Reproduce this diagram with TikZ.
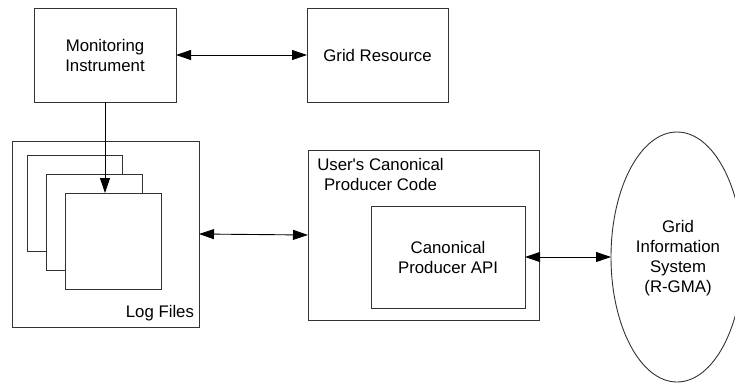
\documentclass[tikz,border=0pt]{standalone}
\usepackage{fontspec}
\setmainfont{Liberation Sans}
\usetikzlibrary{arrows.meta,shapes.geometric}

\tikzset{
  box/.style={draw=black!80, line width=0.9pt, fill=white, inner sep=0pt, outer sep=0pt},
  label/.style={inner sep=0pt, outer sep=0pt, align=center, font=\fontsize{16.8}{20}\selectfont},
  link/.style={draw=black, line width=0.9pt},
  tip/.style={-{Triangle[length=15pt,width=10pt]}},
  tips/.style={{Triangle[length=15pt,width=10pt]}-{Triangle[length=15pt,width=10pt]}}
}

\begin{document}
\begin{tikzpicture}[x=1pt,y=-1pt]
  \useasboundingbox (0,0) rectangle (735,383);

  % top row (labels are placed by the baseline of their last line)
  \node[box, minimum width=142pt, minimum height=94pt] (mon) at (105,55) {};
  \node[label, anchor=base] (monT) at (105,71) {Monitoring\\Instrument};
  \node[box, minimum width=141pt, minimum height=94pt] (grid) at (377.5,55) {};
  \node[label, anchor=base] (gridT) at (377.5,61) {Grid Resource};

  % log files with stacked pages
  \node[box, minimum width=187pt, minimum height=186pt] (log) at (105.5,234) {};
  \node[box, minimum width=95pt, minimum height=96pt] (p1) at (74.5,203) {};
  \node[box, minimum width=96pt, minimum height=96pt] (p2) at (94,222) {};
  \node[box, minimum width=96pt, minimum height=96pt] (p3) at (113,241) {};
  \node[label, anchor=base east] (logT) at (194,317) {Log Files};

  % producer code and API
  \node[box, minimum width=231pt, minimum height=170pt] (user) at (423.5,235) {};
  \node[label, anchor=base] (userT) at (380.5,190) {User\textquotesingle s Canonical\\Producer Code};
  \node[box, minimum width=154pt, minimum height=102pt] (api) at (448,257) {};
  \node[label, anchor=base] (apiT) at (448,273) {Canonical\\Producer API};

  % information system
  \node[draw=black!80, line width=0.9pt, ellipse, inner sep=0pt, outer sep=0pt,
        minimum width=132pt, minimum height=250pt] (gis) at (677,257) {};
  \node[label, anchor=base] (gisT) at (678,292) {Grid\\Information\\System\\(R-GMA)};

  % connectors
  \draw[link, tips] (mon.east) -- (grid.west);
  \draw[link, tip] (mon.south) -- (mon.south |- p3.north);
  \draw[link, tips] (log.east) -- (user.west);
  \draw[link, tips] (api.east) -- (gis.west);
\end{tikzpicture}
\end{document}
